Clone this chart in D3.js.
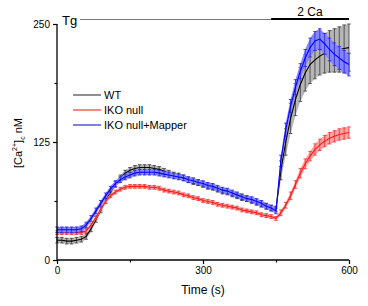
<!DOCTYPE html>
<html><head><meta charset="utf-8">
<script src="https://cdn.jsdelivr.net/npm/d3@7"></script>
<style>body{margin:0;background:#fff}svg{display:block;font-family:Arial,"Liberation Sans",sans-serif}</style>
</head><body><svg id="c" width="368" height="306"></svg>
<script>
const time = [0,10,20,30,40,50,60,70,80,90,100,110,120,130,140,150,160,170,180,190,200,210,220,230,240,250,260,270,280,290,300,310,320,330,340,350,360,370,380,390,400,410,420,430,440,450,460,470,480,490,500,510,520,530,540,550,560,570,580,590,600];
const wtMean = [21,21,20,20,21,22,25,33,43,53,63,72,80,87,92,95,97,98,98,98,97,96,94,92,90,89,87,85,83,82,80,78,77,75,73,72,70,68,66,65,63,61,59,57,55,54,95,125,150,170,186,198,207,212,216,219,221,222,223,224,225];
const wtSd = [3,3,3,3,3,3,3,3,3,3,3,3,3,3,3,3,3,3,3,3,3,3,3,3,3,3,3,3,3,3,3,3,3,3,3,3,3,3,3,3,3,3,3,3,3,3,10,14,16,17,18,19,20,20,20,21,22,23,24,25,25];
const ikoMean = [29,29,29,29,29,29,31,37,45,54,62,68,72,75,77,78,78,78,78,77,77,76,74,73,72,71,69,68,66,65,63,62,61,59,58,57,56,55,53,52,51,50,48,47,46,44,50,58,68,80,92,102,110,117,122,126,129,131,133,134,135];
const ikoSd = [2,2,2,2,2,2,2,2,2,2,2,2,2,2,2,2,2,2,2,2,2,2,2,2,2,2,2,2,2,2,2,2,2,2,2,2,2,2,2,2,2,2,2,2,2,2,3,3,4,4,5,5,5,6,6,6,6,6,6,6,6];
const mapMean = [32,32,32,32,32,33,37,44,52,60,68,75,81,85,88,90,92,93,93,93,93,92,91,90,89,88,87,85,84,82,81,79,78,76,74,73,71,69,67,65,64,62,60,57,55,52,105,138,163,183,200,214,225,232,234,229,223,218,214,210,207];
const mapSd = [3,3,3,3,3,3,3,3,3,3,3,3,3,3,3,3,3,3,3,3,3,3,3,3,3,3,3,3,3,3,3,3,3,3,3,3,3,3,3,3,3,3,3,3,3,3,6,7,7,8,8,9,10,10,11,11,12,12,12,12,12];
const seriesNames = ["WT","IKO null","IKO null+Mapper"];
const xTicks = [0,300,600];
const xMinor = [150,450];
const yTicks = [0,125,250];
const yMinor = [62.5,187.5];
const tgLabel = "Tg";
const caLabel = "2 Ca";
const caStart = 440;

const svg = d3.select("#c");
const x = d3.scaleLinear().domain([0,600]).range([57,349]);
const y = d3.scaleLinear().domain([0,250]).range([260,24]);

const series = [
  {name:seriesNames[0], mean:wtMean, sd:wtSd, fill:"#b6b6b6", bar:"#3a3a3a", line:"#000"},
  {name:seriesNames[1], mean:ikoMean, sd:ikoSd, fill:"#ffa3a3", bar:"#ee3030", line:"#ff1a1a"},
  {name:seriesNames[2], mean:mapMean, sd:mapSd, fill:"#8585ff", bar:"#1e1ee6", line:"#0000ff"}
];

series.forEach(s => {
  const pts = time.map((t,i)=>({t, m:s.mean[i], sd:s.sd[i]}));
  const g = svg.append("g");
  g.append("path").datum(pts)
    .attr("d", d3.area().x(d=>x(d.t)).y0(d=>y(d.m-d.sd)).y1(d=>y(d.m+d.sd)))
    .attr("fill", s.fill).attr("stroke","none");
  const eb = g.selectAll("g.eb").data(pts).join("g");
  eb.append("line").attr("x1",d=>x(d.t)).attr("x2",d=>x(d.t))
    .attr("y1",d=>y(d.m-d.sd)).attr("y2",d=>y(d.m+d.sd))
    .attr("stroke", s.bar).attr("stroke-width",0.8);
  [-1,1].forEach(k=>{
    eb.append("line").attr("x1",d=>x(d.t)-1.8).attr("x2",d=>x(d.t)+1.8)
      .attr("y1",d=>y(d.m+k*d.sd)).attr("y2",d=>y(d.m+k*d.sd))
      .attr("stroke", s.bar).attr("stroke-width",0.8);
  });
  g.append("path").datum(pts)
    .attr("d", d3.line().x(d=>x(d.t)).y(d=>y(d.m)))
    .attr("fill","none").attr("stroke", s.line).attr("stroke-width",1.1);
});

// axes
const xAxis = svg.append("g").attr("transform","translate(0,260)")
  .call(d3.axisBottom(x).tickValues(xTicks).tickSize(4).tickPadding(3).tickFormat(d3.format("d")));
const xAxisMinor = svg.append("g").attr("transform","translate(0,260)")
  .call(d3.axisBottom(x).tickValues(xMinor).tickSize(2.5).tickFormat(""));
const yAxis = svg.append("g").attr("transform","translate(57,0)")
  .call(d3.axisLeft(y).tickValues(yTicks).tickSize(4).tickPadding(3).tickFormat(d3.format("d")));
const yAxisMinor = svg.append("g").attr("transform","translate(57,0)")
  .call(d3.axisLeft(y).tickValues(yMinor).tickSize(2.5).tickFormat(""));
[xAxis,xAxisMinor,yAxis,yAxisMinor].forEach(a=>{
  a.select(".domain").attr("stroke","#000").attr("stroke-width",1.3);
  a.selectAll(".tick line").attr("stroke","#000").attr("stroke-width",1.2);
  a.selectAll(".tick text").attr("font-size",10).attr("fill","#000").attr("font-family","Arial, Liberation Sans, sans-serif");
});
xAxis.selectAll(".domain").attr("d","M57,0H349");
yAxis.selectAll(".domain").attr("d","M0,24V260");
xAxisMinor.select(".domain").remove();
yAxisMinor.select(".domain").remove();

// axis titles
svg.append("text").attr("x",x(300)).attr("y",294).attr("text-anchor","middle")
  .attr("font-size",12).text("Time (s)");
const yt = svg.append("text").attr("transform","translate(22,143) rotate(-90)")
  .attr("text-anchor","middle").attr("font-size",11);
yt.append("tspan").text("[Ca");
yt.append("tspan").attr("font-size",7).attr("dy",-5).text("2+");
yt.append("tspan").attr("dy",5).text("]");
yt.append("tspan").attr("font-size",7).attr("dy",3).text("c");
yt.append("tspan").attr("dy",-3).text(" nM");

// Tg and 2 Ca annotations
svg.append("text").attr("x",62).attr("y",25).attr("font-size",13).text(tgLabel);
svg.append("line").attr("x1",80).attr("x2",x(600)).attr("y1",19.5).attr("y2",19.5)
  .attr("stroke","#777").attr("stroke-width",1);
svg.append("line").attr("x1",x(caStart)).attr("x2",x(600)).attr("y1",19).attr("y2",19)
  .attr("stroke","#000").attr("stroke-width",2.2);
svg.append("text").attr("x",310).attr("y",16).attr("text-anchor","middle")
  .attr("font-size",12).text(caLabel);

// legend
const legColors = ["#444","#ff3333","#2a2ad0"];
const lg = svg.append("g");
seriesNames.forEach((n,i)=>{
  const yy = 95 + i*15;
  lg.append("line").attr("x1",73).attr("x2",101).attr("y1",yy).attr("y2",yy)
    .attr("stroke",legColors[i]).attr("stroke-width",1.2);
  lg.append("text").attr("x",104).attr("y",yy+4).attr("font-size",11).text(n);
});
</script></body></html>
